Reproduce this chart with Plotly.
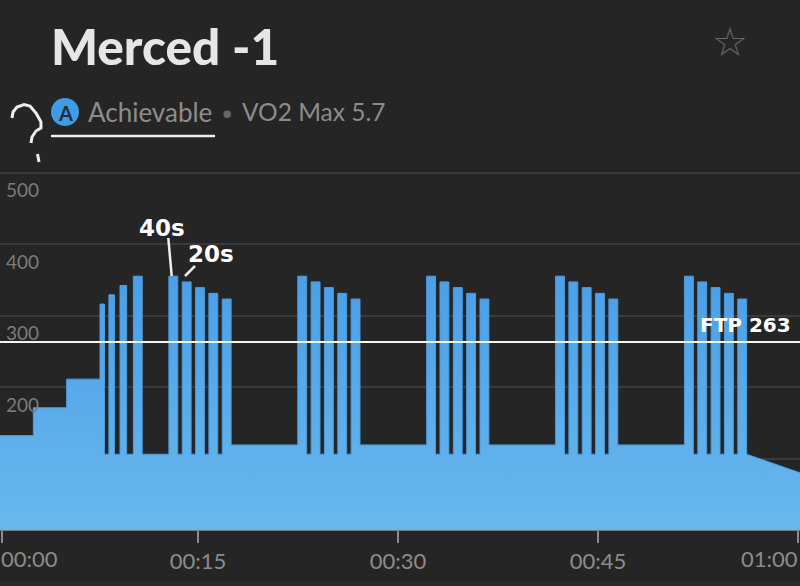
import plotly.graph_objects as go

# ---- data (minutes, watts) ----
STEP_START = [0, 2.5, 5, 7.5, 7.833, 8.167, 8.583, 9.0, 9.5, 10.0, 10.667,
              12.667, 13.333, 13.667, 14.333, 14.667, 15.333, 15.667, 16.333, 16.667, 17.333,
              22.333, 23.0, 23.333, 24.0, 24.333, 25.0, 25.333, 26.0, 26.333, 27.0,
              32.0, 32.667, 33.0, 33.667, 34.0, 34.667, 35.0, 35.667, 36.0, 36.667,
              41.667, 42.333, 42.667, 43.333, 43.667, 44.333, 44.667, 45.333, 45.667, 46.333,
              51.333, 52.0, 52.333, 53.0, 53.333, 54.0, 54.333, 55.0, 55.333]
STEP_WATTS = [132, 171, 211, 316, 106, 329, 106, 342, 106, 355, 106,
              355, 106, 347, 106, 339, 106, 331, 106, 323, 119,
              355, 106, 347, 106, 339, 106, 331, 106, 323, 119,
              355, 106, 347, 106, 339, 106, 331, 106, 323, 119,
              355, 106, 347, 106, 339, 106, 331, 106, 323, 119,
              355, 106, 347, 106, 339, 106, 331, 106, 323]
RAMP_TIME = [56.0, 60.0]
RAMP_WATTS = [106, 80]
FTP = 263
Y_TICKS = [100, 200, 300, 400, 500]
Y_LABELS = ["500", "400", "300", "200"]
X_TICKS = [0.17, 14.85, 29.85, 44.85, 59.85]
X_LABELS = ["", "00:15", "00:30", "00:45", ""]

BG = "#252525"
W, H = 800, 586
PLOT_B = 530
Y_TOP = PLOT_B / 0.715

# expand the steps into a polyline with vertical edges
xs, ys = [], []
for i, (t, w) in enumerate(zip(STEP_START, STEP_WATTS)):
    end = STEP_START[i + 1] if i + 1 < len(STEP_START) else RAMP_TIME[0]
    xs += [t, end]
    ys += [w, w]
xs += RAMP_TIME
ys += RAMP_WATTS

fig = go.Figure()
fig.add_trace(go.Scatter(
    x=xs, y=ys, mode="lines",
    line=dict(color="#4c9cdc", width=1),
    fill="tozeroy",
    fillgradient=dict(type="vertical", start=355, stop=0,
                      colorscale=[[0, "#4b9fe8"], [0.45, "#58aae9"], [1, "#68b8ee"]]),
    hoverinfo="skip", showlegend=False,
))
fig.add_trace(go.Scatter(x=[0, 60], y=[FTP, FTP], mode="lines",
                         line=dict(color="#f4f4f4", width=2),
                         hoverinfo="skip", showlegend=False))


def px(x):
    return x / W


def py(y):
    return 1 - y / PLOT_B  # paper coords, plot area spans y px 0..530


def seg(x0, y0, x1, y1, width=2.5, color="#efefef"):
    return dict(type="line", xref="paper", yref="paper", x0=px(x0), y0=py(y0), x1=px(x1), y1=py(y1),
                line=dict(color=color, width=width), layer="above")


QMARK = [(12, 118), (13, 112), (17, 107), (24, 104.5), (30, 106), (36, 113), (41, 122),
         (41, 128), (36, 131), (32, 137), (31, 143)]
qpath = "M " + " L ".join(f"{px(a):.4f},{py(b):.4f}" for a, b in QMARK)

shapes = [
    dict(type="rect", xref="paper", yref="paper", x0=0, x1=1, y0=py(586), y1=py(581),
         fillcolor="#2a2a2a", line=dict(width=0), layer="below"),
    seg(51, 136, 215, 136, 2.5),
    seg(168.3, 238, 171.7, 276, 2.5),
    seg(195, 266, 185, 276, 2.5),
    dict(type="path", xref="paper", yref="paper", path=qpath,
         line=dict(color="#efefef", width=3), layer="above"),
    seg(37.5, 154, 39, 162, 3),
    dict(type="circle", xref="paper", yref="paper", x0=px(51), x1=px(79), y0=py(126), y1=py(98),
         fillcolor="#3f9be3", line=dict(width=0)),
    dict(type="circle", xref="paper", yref="paper", x0=px(223.5), x1=px(231), y0=py(118), y1=py(110.5),
         fillcolor="#666666", line=dict(width=0)),
]


def txt(s, x, y, size, color, font="Lato", anchor="left", bold=False, weight=None):
    f = dict(family=font, size=size, color=color)
    if weight:
        f["weight"] = weight
    return dict(text=f"<b>{s}</b>" if bold else s, xref="paper", yref="paper", x=px(x), y=py(y),
                xanchor=anchor, yanchor="middle", showarrow=False, font=f)


annotations = [
    txt("Merced -1", 49, 46, 49.5, "#e6e6e6", weight=900),
    txt("A", 65, 112.5, 20, "#1f2f40", anchor="center", bold=True),
    txt("Achievable", 86, 112, 26, "#8c8c8c"),
    txt("VO2 Max 5.7", 240, 112, 24.5, "#8c8c8c"),
    txt("☆", 730, 42, 40, "#666666", font="DejaVu Sans", anchor="center"),
    txt("40s", 137, 228, 23, "#ffffff", font="DejaVu Sans", bold=True),
    txt("20s", 186, 254, 23, "#ffffff", font="DejaVu Sans", bold=True),
    txt("FTP 263", 698, 325, 20, "#ffffff", font="DejaVu Sans", bold=True),
    txt("00:00", -1, 558, 22, "#8c8c8c"),
    txt("01:00", 800, 558, 22, "#8c8c8c", anchor="right"),
]
for label in Y_LABELS:
    annotations.append(dict(text=label, xref="paper", yref="y", x=px(4), y=int(label), yshift=-17,
                            xanchor="left", yanchor="middle", showarrow=False,
                            font=dict(family="Lato", size=19, color="#7a7a7a")))

fig.update_layout(
    width=W, height=H, autosize=False,
    paper_bgcolor=BG, plot_bgcolor=BG,
    margin=dict(l=0, r=0, t=0, b=H - PLOT_B, pad=0),
    showlegend=False, shapes=shapes, annotations=annotations,
    xaxis=dict(range=[0, 60], tickmode="array", tickvals=X_TICKS, ticktext=X_LABELS,
               ticks="outside", ticklen=12, tickwidth=2, tickcolor="#8a8a8a",
               showgrid=False, zeroline=False, showline=True, linecolor="#7a7a7a", linewidth=1,
               tickfont=dict(family="Lato", size=22, color="#8c8c8c"), fixedrange=True),
    yaxis=dict(range=[0, Y_TOP], tickmode="array", tickvals=Y_TICKS, showticklabels=False,
               showgrid=True, gridcolor="#3a3a3a", gridwidth=2, zeroline=False, fixedrange=True),
)
fig.write_html("out.html", config=dict(displayModeBar=False),
               post_script="document.body.style.margin='0';document.documentElement.style.background='#252525';")
